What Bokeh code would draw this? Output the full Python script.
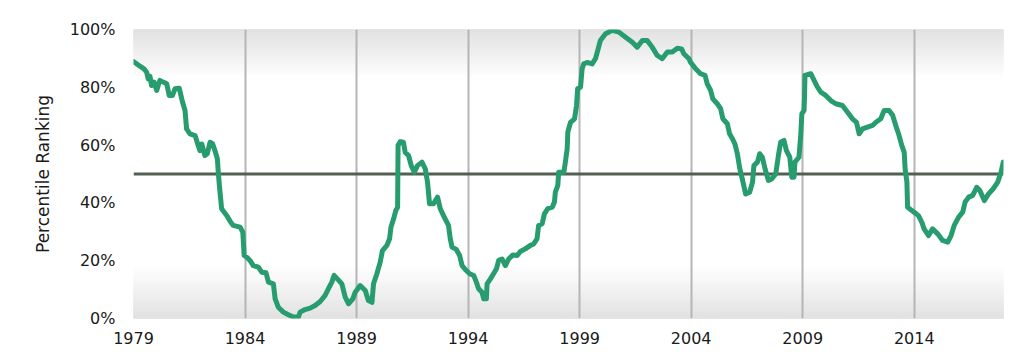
from bokeh.plotting import figure
from bokeh.models import FixedTicker, PrintfTickFormatter, Span, Range1d
from bokeh.embed import file_html
from bokeh.resources import INLINE

# ---- data ----
years = [
    1979.00, 1979.29, 1979.47, 1979.59, 1979.66, 1979.74, 1979.81, 1979.92, 1980.04, 1980.18,
    1980.33, 1980.49, 1980.60, 1980.75, 1980.86, 1981.05, 1981.20, 1981.31, 1981.38, 1981.53,
    1981.76, 1981.90, 1981.98, 1982.06, 1982.20, 1982.31, 1982.43, 1982.55, 1982.65, 1982.76,
    1982.80, 1982.85, 1982.95, 1983.18, 1983.36, 1983.47, 1983.78, 1983.90, 1983.96, 1984.08,
    1984.22, 1984.37, 1984.60, 1984.75, 1984.94, 1985.05, 1985.27, 1985.35, 1985.49, 1985.72,
    1985.94, 1986.17, 1986.39, 1986.47, 1986.69, 1986.92, 1987.14, 1987.37, 1987.59, 1987.74,
    1987.89, 1987.99, 1988.14, 1988.34, 1988.49, 1988.64, 1988.83, 1988.94, 1989.16, 1989.39,
    1989.53, 1989.69, 1989.76, 1989.91, 1990.06, 1990.16, 1990.36, 1990.48, 1990.54, 1990.66,
    1990.76, 1990.84, 1990.85, 1990.86, 1990.96, 1991.10, 1991.18, 1991.33, 1991.45, 1991.59,
    1991.73, 1991.93, 1992.08, 1992.18, 1992.27, 1992.45, 1992.63, 1992.75, 1992.93, 1993.12,
    1993.20, 1993.28, 1993.47, 1993.62, 1993.73, 1993.92, 1994.07, 1994.25, 1994.37, 1994.47,
    1994.62, 1994.70, 1994.82, 1994.85, 1995.00, 1995.14, 1995.27, 1995.37, 1995.52, 1995.67,
    1995.82, 1996.01, 1996.20, 1996.34, 1996.57, 1996.79, 1996.94, 1997.09, 1997.16, 1997.32,
    1997.42, 1997.57, 1997.77, 1997.87, 1997.91, 1998.02, 1998.06, 1998.29, 1998.36, 1998.44,
    1998.47, 1998.59, 1998.77, 1998.86, 1998.91, 1999.04, 1999.11, 1999.18, 1999.34, 1999.56,
    1999.71, 1999.79, 1999.93, 2000.16, 2000.46, 2000.76, 2001.06, 2001.36, 2001.58, 2001.81,
    2002.03, 2002.25, 2002.48, 2002.70, 2002.93, 2003.15, 2003.38, 2003.57, 2003.67, 2003.90,
    2003.97, 2004.20, 2004.42, 2004.62, 2004.72, 2004.87, 2004.97, 2005.17, 2005.32, 2005.42,
    2005.62, 2005.72, 2005.85, 2005.96, 2006.07, 2006.18, 2006.29, 2006.44, 2006.62, 2006.75,
    2006.81, 2006.97, 2007.07, 2007.19, 2007.31, 2007.46, 2007.61, 2007.79, 2007.91, 2008.01,
    2008.16, 2008.27, 2008.42, 2008.51, 2008.61, 2008.65, 2008.83, 2008.91, 2008.96, 2009.06,
    2009.08, 2009.10, 2009.36, 2009.51, 2009.66, 2009.81, 2010.03, 2010.26, 2010.48, 2010.78,
    2011.01, 2011.23, 2011.41, 2011.53, 2011.68, 2011.90, 2012.13, 2012.28, 2012.50, 2012.65,
    2012.87, 2013.03, 2013.17, 2013.32, 2013.44, 2013.55, 2013.59, 2013.67, 2013.70, 2013.89,
    2014.04, 2014.19, 2014.34, 2014.44, 2014.64, 2014.82, 2015.05, 2015.27, 2015.50, 2015.65,
    2015.79, 2015.99, 2016.17, 2016.28, 2016.44, 2016.62, 2016.80, 2016.94, 2017.14, 2017.33,
    2017.54, 2017.74, 2017.89, 2017.99,
]
percentile = [
    88.9, 87.3, 86.4, 85.2, 82.9, 83.8, 80.6, 81.8, 78.9, 82.4,
    81.8, 81.2, 77.2, 77.2, 79.5, 79.7, 74.8, 72.0, 65.6, 63.9,
    63.3, 59.9, 58.1, 60.4, 56.4, 57.0, 61.0, 60.4, 58.1, 55.3,
    50.6, 46.0, 38.0, 35.6, 33.3, 32.2, 31.6, 29.9, 21.8, 21.2,
    20.1, 18.3, 17.8, 16.0, 15.8, 12.6, 12.0, 6.8, 3.9, 2.2,
    1.3, 0.5, 0.5, 2.2, 3.1, 3.6, 4.5, 5.9, 8.0, 10.3,
    12.6, 14.9, 13.7, 12.0, 7.4, 5.1, 6.8, 9.1, 11.4, 9.7,
    6.2, 5.6, 12.0, 15.5, 19.5, 23.5, 25.3, 27.6, 31.6, 34.5,
    37.4, 38.5, 49.5, 59.9, 61.2, 61.0, 57.5, 56.4, 52.9, 50.6,
    52.9, 54.1, 51.8, 47.2, 39.7, 39.7, 42.0, 38.0, 35.1, 32.2,
    27.6, 24.7, 23.9, 21.8, 18.3, 16.6, 15.5, 14.9, 12.6, 10.3,
    9.1, 6.8, 6.8, 12.0, 13.7, 15.5, 17.2, 20.1, 20.6, 18.3,
    20.6, 22.0, 21.8, 23.2, 24.1, 25.3, 25.8, 27.6, 32.2, 32.8,
    36.2, 38.0, 38.5, 40.3, 43.7, 46.0, 50.6, 50.6, 54.1, 58.7,
    64.5, 67.9, 69.1, 73.7, 79.5, 80.1, 86.4, 88.1, 88.6, 88.1,
    89.9, 92.2, 96.2, 98.5, 99.7, 99.1, 97.3, 95.6, 93.9, 96.2,
    96.2, 93.9, 91.0, 89.9, 92.2, 92.2, 93.5, 93.3, 91.6, 89.9,
    88.7, 86.4, 84.7, 84.1, 81.2, 78.9, 76.0, 74.3, 72.6, 69.1,
    67.4, 63.9, 62.2, 60.4, 57.0, 51.8, 48.3, 43.1, 43.7, 47.2,
    52.9, 54.1, 57.0, 55.8, 51.8, 47.8, 48.3, 50.0, 56.4, 61.0,
    61.6, 58.1, 55.8, 48.9, 48.9, 54.1, 55.8, 63.3, 70.8, 72.0,
    76.6, 84.1, 84.7, 82.4, 80.1, 78.3, 77.2, 75.4, 74.3, 73.7,
    71.4, 69.1, 67.9, 63.9, 65.6, 66.2, 66.8, 67.9, 69.1, 72.0,
    72.0, 70.3, 66.8, 63.3, 59.9, 57.5, 51.8, 47.2, 38.5, 37.4,
    36.5, 35.6, 33.3, 31.0, 28.7, 31.0, 29.3, 27.0, 26.4, 28.7,
    32.2, 35.1, 36.8, 40.3, 42.0, 42.6, 45.4, 44.3, 40.8, 43.1,
    44.9, 47.2, 50.6, 54.1,
]
x_ticks = [1979, 1984, 1989, 1994, 1999, 2004, 2009, 2014]
y_ticks = [0, 20, 40, 60, 80, 100]
midline = 50
x_start, x_end = 1979, 2018
y_start, y_end = 0, 100

FONT = "DejaVu Sans"
LINE_COLOR = "#269c6f"

p = figure(
    frame_width=870, frame_height=289,
    min_border_left=133, min_border_top=29, min_border_right=14, min_border_bottom=40,
    x_range=Range1d(x_start, x_end), y_range=Range1d(y_start, y_end),
    output_backend="svg", toolbar_location=None,
)
p.outline_line_color = None
p.background_fill_color = "white"
p.border_fill_color = "white"

# ---- gradient background bands (top and bottom of the plot area) ----
# nested quads from the edge inward: lightest/widest first, darkest/narrowest last
steps = 24
top_band = 17.0
bot_band = 18.0
edge_gray = 226
for i in range(steps - 1, -1, -1):
    frac = i / steps
    g = int(round(edge_gray + (255 - edge_gray) * frac))
    col = "#%02x%02x%02x" % (g, g, g)
    extent = (i + 1) / steps
    p.quad(left=[x_start], right=[x_end], top=[y_end], bottom=[y_end - top_band * extent],
           fill_color=col, line_color=None, level="image")
    p.quad(left=[x_start], right=[x_end], top=[y_start + bot_band * extent], bottom=[y_start],
           fill_color=col, line_color=None, level="image")

# ---- grid ----
p.ygrid.grid_line_color = None
p.xgrid.ticker = FixedTicker(ticks=x_ticks[1:])
p.xgrid.grid_line_color = "#b5b5b5"
p.xgrid.grid_line_width = 2

mid = Span(location=midline, dimension="width", line_color="#535f53", line_width=3,
           level="underlay")
p.add_layout(mid)

# ---- data line ----
p.line(years, percentile, line_color=LINE_COLOR, line_width=5,
       line_join="round", line_cap="round")

# ---- axes ----
p.xaxis.ticker = FixedTicker(ticks=x_ticks)
p.yaxis.ticker = FixedTicker(ticks=y_ticks)
p.yaxis.formatter = PrintfTickFormatter(format="%d%%")
for ax in (p.xaxis[0], p.yaxis[0]):
    ax.axis_line_color = None
    ax.major_tick_line_color = None
    ax.minor_tick_line_color = None
    ax.major_tick_out = 0
    ax.major_tick_in = 0
    ax.major_label_text_font = FONT
    ax.major_label_text_font_size = "16px"
    ax.major_label_text_color = "#1a1a1a"
p.xaxis.major_label_standoff = 13
p.yaxis.major_label_standoff = 18
p.yaxis.axis_label = "Percentile Ranking"
p.yaxis.axis_label_text_font = FONT
p.yaxis.axis_label_text_font_size = "17px"
p.yaxis.axis_label_text_font_style = "normal"
p.yaxis.axis_label_text_color = "#1a1a1a"
p.yaxis.axis_label_standoff = 14

open("out.html", "w").write(file_html(p, INLINE))
